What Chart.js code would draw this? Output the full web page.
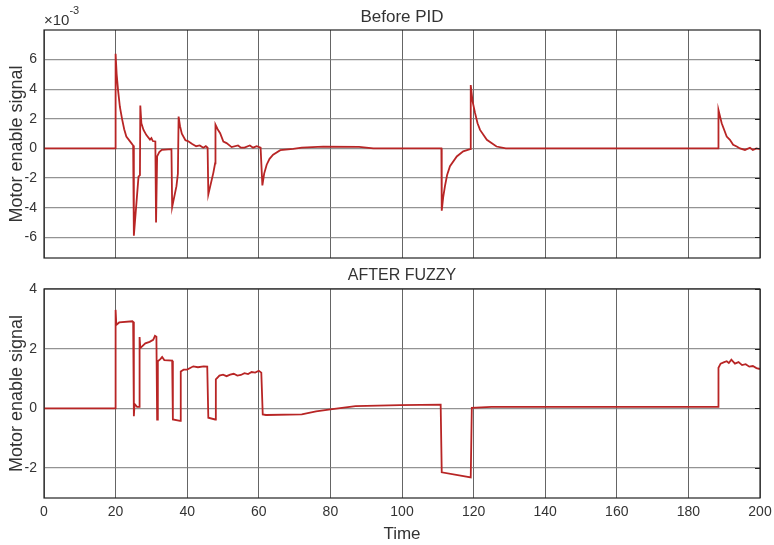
<!DOCTYPE html>
<html>
<head>
<meta charset="utf-8">
<script src="https://cdn.jsdelivr.net/npm/chart.js@4.4.0/dist/chart.umd.min.js"></script>
<style>
  html, body { margin: 0; padding: 0; background: #fff; overflow: hidden; }
  #wrap { position: relative; width: 774px; height: 545px; overflow: hidden; }
  #wrap canvas { position: absolute; left: 0; }
  #top-chart { top: 0; }
  #bottom-chart { top: 262px; }
</style>
</head>
<body>
<div id="wrap">
  <canvas id="top-chart" width="774" height="262"></canvas>
  <canvas id="bottom-chart" width="774" height="283"></canvas>
</div>
<script>
// ---- data ----
// top panel values are in units of 1e-3
var timeTop = [0, 19.9, 20.0, 20.3, 20.7, 21.2, 21.8, 22.4, 23.0, 24.4, 24.9, 25.1, 26.4, 26.8, 26.9, 27.2, 27.8, 28.6, 29.6, 30.0, 30.4, 31.1,
  31.3, 31.6, 32.2, 32.9, 35.6, 35.8, 37.0, 37.4, 37.6, 38.0, 38.5, 39.5, 40.2, 41.4, 42.5, 43.5, 44.5, 45.2, 45.7, 45.9,
  47.3, 47.8, 47.9, 48.5, 49.2, 50.1, 51.0, 52.4, 54.2, 55.0, 56.0, 57.5, 58.4, 59.4, 60.5, 61.0, 61.5, 62.2, 63.0, 64.0, 66.0,
  69.6, 72.0, 78.0, 88.0, 92.0, 111.0, 111.1, 111.5, 112.0, 112.6, 113.4, 115.3, 117.1, 119.0, 119.2, 119.7, 120.4, 121.1, 121.8, 123.7,
  126.4, 129.0, 188.3, 188.4, 189.3, 190.7, 191.6, 192.5, 193.5, 194.4, 195.8, 197.2, 198.0, 199.0, 200.0];
var signalTop = [0, 0, 6.4, 5.0, 3.9, 2.8, 2.0, 1.3, 0.8, 0.36, 0.2, -5.9, -1.9, -1.8, 2.9, 1.7, 1.25, 0.9, 0.6, 0.7, 0.5, 0.47,
  -5.0, -0.54, -0.25, -0.1, -0.05, -3.95, -2.55, -1.7, 2.15, 1.5, 1.0, 0.55, 0.5, 0.3, 0.15, 0.2, 0.05, 0.15, 0.05, -3.1,
  -1.65, -1.0, 1.6, 1.3, 1.03, 0.47, 0.36, 0.09, 0.2, 0.05, 0.05, 0.2, 0.05, 0.15, 0.05, -2.5, -1.7, -1.1, -0.7, -0.42, -0.12,
  -0.03, 0.05, 0.12, 0.1, 0, 0, -4.2, -3.3, -2.55, -1.8, -1.2, -0.54, -0.2, -0.05, 4.28, 3.2, 2.4, 1.7, 1.25, 0.58,
  0.13, 0, 0, 2.6, 1.7, 0.8, 0.58, 0.25, 0.13, 0, -0.1, 0.05, -0.1, 0, -0.05];

var timeBottom = [0, 19.9, 20.0, 20.2, 21.0, 24.7, 24.9, 25.1, 25.3, 26.0, 26.6, 26.7, 26.9, 28.3, 29.5, 30.5, 31.0, 31.4,
  31.6, 31.8, 32.5, 33.0, 33.6, 35.8, 36.0, 38.0, 38.2, 39.0, 40.0, 41.7, 43.0, 44.6, 45.6, 45.9, 47.8, 48.0,
  49.0, 50.0, 51.0, 52.0, 53.0, 54.0, 55.0, 56.0, 57.0, 58.0, 59.0, 60.0, 60.7, 61.1, 62.0, 72.0, 76.0, 80.0,
  87.0, 99.4, 110.8, 111.1, 119.2, 119.5, 125.0, 188.3, 188.4, 189.0, 190.0, 190.7, 191.3, 192.0, 193.0, 194.0,
  195.0, 196.0, 197.0, 198.0, 199.0, 200.0];
var signalBottom = [0, 0, 3.3, 2.8, 2.88, 2.92, 2.9, -0.26, 0.15, 0.05, 0.05, 2.39, 2.02, 2.18, 2.23, 2.3, 2.43, 2.4,
  -0.37, 1.58, 1.65, 1.72, 1.62, 1.6, -0.37, -0.42, 1.24, 1.3, 1.3, 1.41, 1.38, 1.41, 1.4, -0.31, -0.37, 0.97,
  1.1, 1.13, 1.08, 1.13, 1.16, 1.1, 1.12, 1.18, 1.15, 1.22, 1.2, 1.26, 1.2, -0.2, -0.22, -0.2, -0.1, -0.03,
  0.08, 0.11, 0.13, -2.14, -2.31, 0.02, 0.05, 0.05, 1.36, 1.5, 1.55, 1.58, 1.52, 1.63, 1.5, 1.55,
  1.45, 1.48, 1.4, 1.42, 1.35, 1.32];

var xTicks = [0, 20, 40, 60, 80, 100, 120, 140, 160, 180, 200];
var yTicksTop = [-6, -4, -2, 0, 2, 4, 6];
var yTicksBottom = [-2, 0, 2, 4];

Chart.defaults.font.family = "'Liberation Sans', Arial, sans-serif";
Chart.defaults.color = '#333';

var lineColor = '#b82525';
var textColor = '#333';

function toPoints(xs, ys) {
  return xs.map(function(x, i) { return { x: x, y: ys[i] }; });
}

// titles, exponent label, box frame and inner right ticks
var panelDecor = {
  id: 'panelDecor',
  afterDraw: function(chart, args, opts) {
    var ctx = chart.ctx;
    var a = chart.chartArea;
    ctx.save();
    ctx.fillStyle = textColor;
    ctx.font = opts.titleSize + "px 'Liberation Sans', Arial, sans-serif";
    ctx.textAlign = 'center';
    ctx.textBaseline = 'middle';
    ctx.fillText(opts.title, (a.left + a.right) / 2, a.top - 13);

    if (opts.exponent) {
      ctx.textAlign = 'left';
      ctx.textBaseline = 'alphabetic';
      ctx.font = "15px 'Liberation Sans', Arial, sans-serif";
      ctx.fillText('\u00d710', 44, 25);
      var w = ctx.measureText('\u00d710').width;
      ctx.font = "11px 'Liberation Sans', Arial, sans-serif";
      ctx.fillText('-3', 44 + w, 14);
    }

    var ys = chart.scales.y;
    ctx.strokeStyle = '#222';
    ctx.lineWidth = 1;
    ys.ticks.forEach(function(t) {
      var py = Math.round(ys.getPixelForValue(t.value)) + 0.5;
      ctx.beginPath();
      ctx.moveTo(a.right - 5, py);
      ctx.lineTo(a.right, py);
      ctx.stroke();
    });
    ctx.lineWidth = 1.2;
    ctx.strokeRect(a.left, a.top, a.right - a.left, a.bottom - a.top);
    ctx.restore();
  }
};

function makePanel(canvasId, xs, ys, yMin, yMax, yTicks, opts) {
  return new Chart(document.getElementById(canvasId), {
    type: 'line',
    data: {
      datasets: [{
        data: toPoints(xs, ys),
        borderColor: lineColor,
        borderWidth: 1.8,
        pointRadius: 0,
        tension: 0,
        fill: false
      }]
    },
    options: {
      responsive: false,
      animation: false,
      layout: { padding: { top: opts.padTop, right: 14, left: 0, bottom: 0 } },
      plugins: {
        legend: { display: false },
        tooltip: { enabled: false },
        panelDecor: { title: opts.title, titleSize: opts.titleSize, exponent: opts.exponent }
      },
      scales: {
        x: {
          type: 'linear',
          min: 0,
          max: 200,
          afterBuildTicks: function(scale) {
            scale.ticks = xTicks.map(function(v) { return { value: v }; });
          },
          afterFit: function(scale) {
            scale.height = opts.xHeight;
            scale.paddingLeft = 0;
            scale.paddingRight = 0;
          },
          grid: { color: 'rgba(50,50,50,0.75)', lineWidth: 1, drawTicks: false },
          border: { display: false },
          ticks: {
            display: opts.showX,
            padding: 6,
            color: textColor,
            font: { size: 14 }
          },
          title: {
            display: opts.showX,
            text: 'Time',
            color: textColor,
            font: { size: 17 },
            padding: { top: 0, bottom: 0 }
          }
        },
        y: {
          type: 'linear',
          min: yMin,
          max: yMax,
          afterBuildTicks: function(scale) {
            scale.ticks = yTicks.map(function(v) { return { value: v }; });
          },
          afterFit: function(scale) {
            scale.width = 44;
            scale.paddingTop = 0;
            scale.paddingBottom = 0;
          },
          grid: { color: 'rgba(120,120,120,0.8)', lineWidth: 1.3, drawTicks: false },
          border: { display: false },
          ticks: {
            padding: 7,
            color: textColor,
            font: { size: 14 }
          },
          title: {
            display: true,
            text: 'Motor enable signal',
            color: textColor,
            font: { size: 18 },
            padding: { top: 6, bottom: 0 }
          }
        }
      }
    },
    plugins: [panelDecor]
  });
}

makePanel('top-chart', timeTop, signalTop, -7.4, 8, yTicksTop, {
  title: 'Before PID', titleSize: 17, exponent: true,
  padTop: 30, xHeight: 4, showX: false
});

makePanel('bottom-chart', timeBottom, signalBottom, -3, 4, yTicksBottom, {
  title: 'AFTER FUZZY', titleSize: 16, exponent: false,
  padTop: 27, xHeight: 47, showX: true
});
</script>
</body>
</html>
